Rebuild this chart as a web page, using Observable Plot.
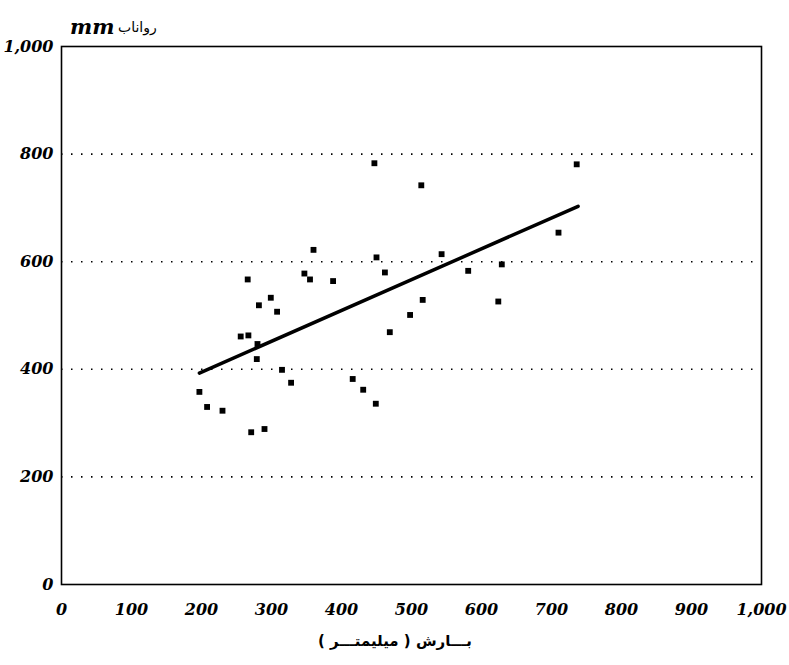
<!DOCTYPE html>
<html><head><meta charset="utf-8">
<script src="https://cdn.jsdelivr.net/npm/d3@7"></script>
<script src="https://cdn.jsdelivr.net/npm/@observablehq/plot@0.6"></script>
<style>
body{margin:0;background:#fff;}
#wrap{position:relative;width:789px;height:665px;background:#fff;}
.t{position:absolute;white-space:nowrap;color:#000;line-height:1;}
</style></head><body>
<div id="wrap"></div>
<script>
// rainfall (mm) and runoff (mm)
const rainfall = [197,208,230,271,290,256,267,280,279,266,282,299,308,315,328,347,355,360,388,447,514,710,450,543,462,581,629,516,498,469,624,416,431,449,736];
const runoff   = [358,330,323,283,289,461,463,447,419,567,519,533,507,399,375,578,567,622,564,783,742,654,608,614,580,583,595,529,501,469,526,382,362,336,781];
// fitted line end points
const fitX = [197, 738];
const fitY = [393, 703];
const xTicks = [0,100,200,300,400,500,600,700,800,900,1000];
const yTicks = [0,200,400,600,800,1000];
const gridY = [200,400,600,800];
const yTitle = "mm";
const yTitleFa = "رواناب";
const xTitle = "بـــارش ( میلیمتـــر )";

const points = rainfall.map((x,i)=>({x, y: runoff[i]}));
const fit = fitX.map((x,i)=>({x, y: fitY[i]}));
const fmt = d3.format(",");
const tickFont = {fontFamily: "'DejaVu Serif', serif", fontSize: 16, fontStyle: "italic", fontWeight: "bold"};

const chart = Plot.plot({
  width: 789, height: 665,
  marginLeft: 61, marginRight: 28, marginTop: 46, marginBottom: 81,
  style: {fontFamily: "'DejaVu Serif', serif", background: "#fff", color: "#000", overflow: "visible"},
  x: {domain: [0,1000]},
  y: {domain: [0,1000]},
  marks: [
    Plot.ruleY(gridY, {stroke: "#000", strokeWidth: 1.6, strokeDasharray: "1.5 8.5"}),
    Plot.frame({stroke: "#000", strokeWidth: 1.6}),
    Plot.axisX({ticks: xTicks, tickFormat: fmt, tickSize: 0, tickPadding: 19, label: null, ...tickFont}),
    Plot.axisY({ticks: yTicks, tickFormat: fmt, tickSize: 0, tickPadding: 8, label: null, ...tickFont}),
    Plot.line(fit, {x: "x", y: "y", stroke: "#000", strokeWidth: 3.5}),
    Plot.dot(points, {x: "x", y: "y", symbol: "square", r: 3.3, fill: "#000", stroke: null})
  ]
});
const wrap = document.getElementById("wrap");
wrap.appendChild(chart);

function addText(txt, css, dir) {
  const d = document.createElement("div");
  d.className = "t";
  d.textContent = txt;
  if (dir) d.dir = dir;
  Object.assign(d.style, css);
  wrap.appendChild(d);
}
addText(yTitle, {left: "70px", top: "16px", fontFamily: "'DejaVu Serif', serif", fontStyle: "italic", fontWeight: "bold", fontSize: "21px"});
addText(yTitleFa, {left: "118px", top: "20px", fontFamily: "'DejaVu Sans', sans-serif", fontSize: "14px"}, "rtl");
addText(xTitle, {left: "318px", top: "634px", fontFamily: "'DejaVu Sans', sans-serif", fontSize: "15px", fontWeight: "bold"}, "rtl");
</script>
</body></html>
